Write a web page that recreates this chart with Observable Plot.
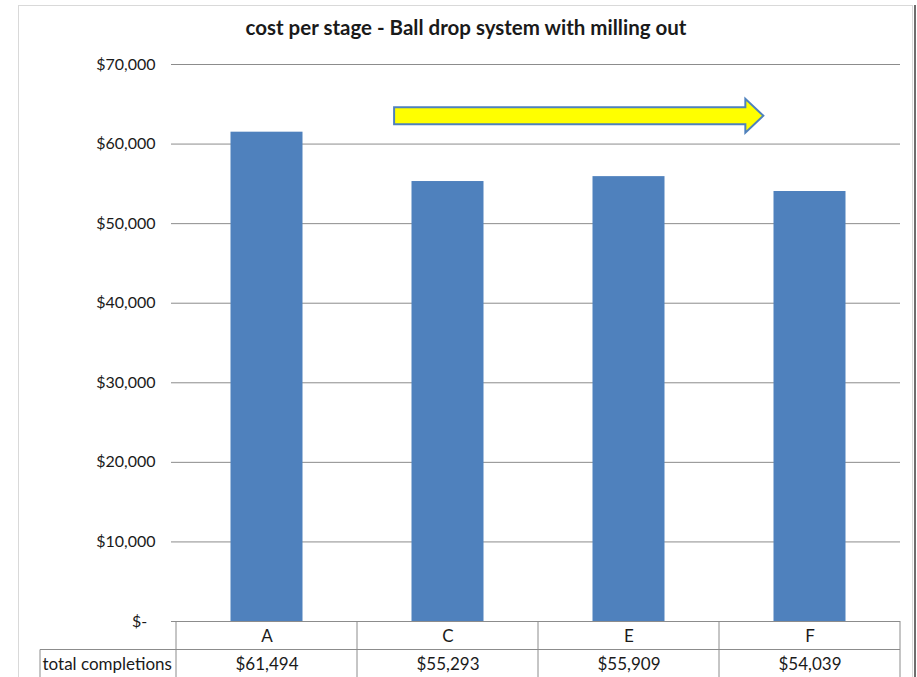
<!DOCTYPE html>
<html>
<head>
<meta charset="utf-8">
<script src="https://cdn.jsdelivr.net/npm/d3@7"></script>
<script src="https://cdn.jsdelivr.net/npm/@observablehq/plot@0.6"></script>
<style>
  html, body { margin: 0; padding: 0; background: #fff; }
  #chart svg { display: block; }
</style>
</head>
<body>
<div id="chart"></div>
<script>
// Cost per stage for each completion design
const title = "cost per stage - Ball drop system with milling out";
const categories = ["A", "C", "E", "F"];
const costs = [61494, 55293, 55909, 54039];
const rowLabel = "total completions";
const yTicks = [0, 10000, 20000, 30000, 40000, 50000, 60000, 70000];

// Trend arrow annotation, expressed in chart units
const arrowFrom = "C";
const arrowTo = "F";
const arrowValue = 63500;

const data = categories.map((c, i) => ({category: c, cost: costs[i]}));

const W = 917, H = 677;
const mLeft = 176, mRight = 17, mTop = 64, mBottom = 56;
const font = "Lato, 'Open Sans', sans-serif";
const ink = "#1a1a1a";
const gridColor = "#8c8c8c";
const barColor = "#4f81bd";

const money = d3.format("$,");
const tickFmt = d => d === 0 ? "$-  " : money(d);

// Custom mark: the data table under the axis, with its cell borders
function tableMark(index, scales, values, dims) {
  const x = scales.x, y = scales.y;
  const bw = x.bandwidth();
  const y0 = y(0);
  const rowH = 28.5;
  const g = d3.create("svg:g").attr("fill", "none").attr("stroke", gridColor).attr("stroke-width", 1);
  const right = dims.width - dims.marginRight;
  const bottom = y0 + 2 * rowH + 4;
  // horizontal lines
  g.append("line").attr("x1", 40).attr("x2", right).attr("y1", y0 + rowH).attr("y2", y0 + rowH);
  g.append("line").attr("x1", 40).attr("x2", right).attr("y1", bottom).attr("y2", bottom);
  // vertical lines at band edges
  const edges = categories.map(c => x(c)).concat([x(categories.at(-1)) + bw]);
  edges.forEach(ex => g.append("line").attr("x1", ex).attr("x2", ex).attr("y1", y0).attr("y2", bottom));
  g.append("line").attr("x1", 40).attr("x2", 40).attr("y1", y0 + rowH).attr("y2", bottom);
  return g.node();
}

// Custom mark: block arrow between two categories at a given value
function arrowMark(index, scales) {
  const x = scales.x, y = scales.y;
  const bw = x.bandwidth();
  const x0 = x(arrowFrom) + bw * 0.205;
  const x1 = x(arrowTo) + bw * 0.245;
  const yc = y(arrowValue);
  const body = 8.5, head = 17, headLen = 18;
  const pts = [
    [x0, yc - body], [x1 - headLen, yc - body], [x1 - headLen, yc - head],
    [x1, yc], [x1 - headLen, yc + head], [x1 - headLen, yc + body], [x0, yc + body]
  ];
  const p = d3.create("svg:path")
    .attr("d", "M" + pts.map(q => q.join(",")).join("L") + "Z")
    .attr("fill", "#ffff00")
    .attr("stroke", "#4f81bd")
    .attr("stroke-width", 2)
    .attr("stroke-linejoin", "miter");
  return p.node();
}

// Outer chart frame and title
function frameMark(index, scales, values, dims) {
  const g = d3.create("svg:g");
  g.append("rect").attr("x", 18.5).attr("y", 5.5).attr("width", 894).attr("height", 700)
    .attr("fill", "none").attr("stroke", "#d9d9d9");
  g.append("line").attr("x1", 915).attr("x2", 915).attr("y1", 5).attr("y2", H)
    .attr("stroke", "#6e6e6e").attr("stroke-width", 2);
  g.append("text").attr("x", 466).attr("y", 30).attr("text-anchor", "middle")
    .attr("dominant-baseline", "middle")
    .attr("font-family", font).attr("font-weight", "bold").attr("font-size", 20.5)
    .attr("fill", ink).text(title);
  return g.node();
}

const chart = Plot.plot({
  width: W,
  height: H,
  marginLeft: mLeft,
  marginRight: mRight,
  marginTop: mTop,
  marginBottom: mBottom,
  style: {fontFamily: font, fontSize: "16px", color: ink, background: "#fff"},
  x: {domain: categories, padding: 0, label: null},
  y: {domain: [0, 70000], label: null},
  marks: [
    frameMark,
    Plot.gridY(yTicks, {stroke: gridColor, strokeOpacity: 1, strokeWidth: 1}),
    Plot.ruleX([0], {frameAnchor: "left", y1: 0, y2: 70000, stroke: gridColor}),
    Plot.axisY(yTicks, {
      tickSize: 5, tickPadding: 16, tickFormat: tickFmt,
      stroke: gridColor, fontSize: 16, fill: ink, label: null
    }),
    Plot.barY(data, {
      x: "category", y: "cost", fill: barColor,
      insetLeft: 54.5, insetRight: 54.5
    }),
    Plot.ruleY([0], {stroke: gridColor}),
    Plot.axisX({tickSize: 0, tickPadding: 8, fontSize: 17, fill: ink, label: null}),
    tableMark,
    Plot.text(data, {
      x: "category", y: 0, text: d => money(d.cost),
      dy: 43, fontSize: 17, fill: ink
    }),
    Plot.text([rowLabel], {
      frameAnchor: "left", y: [0], text: d => d, dx: -134, dy: 43,
      textAnchor: "start", fontSize: 17, fill: ink
    }),
    arrowMark
  ]
});

document.getElementById("chart").append(chart);
</script>
</body>
</html>
